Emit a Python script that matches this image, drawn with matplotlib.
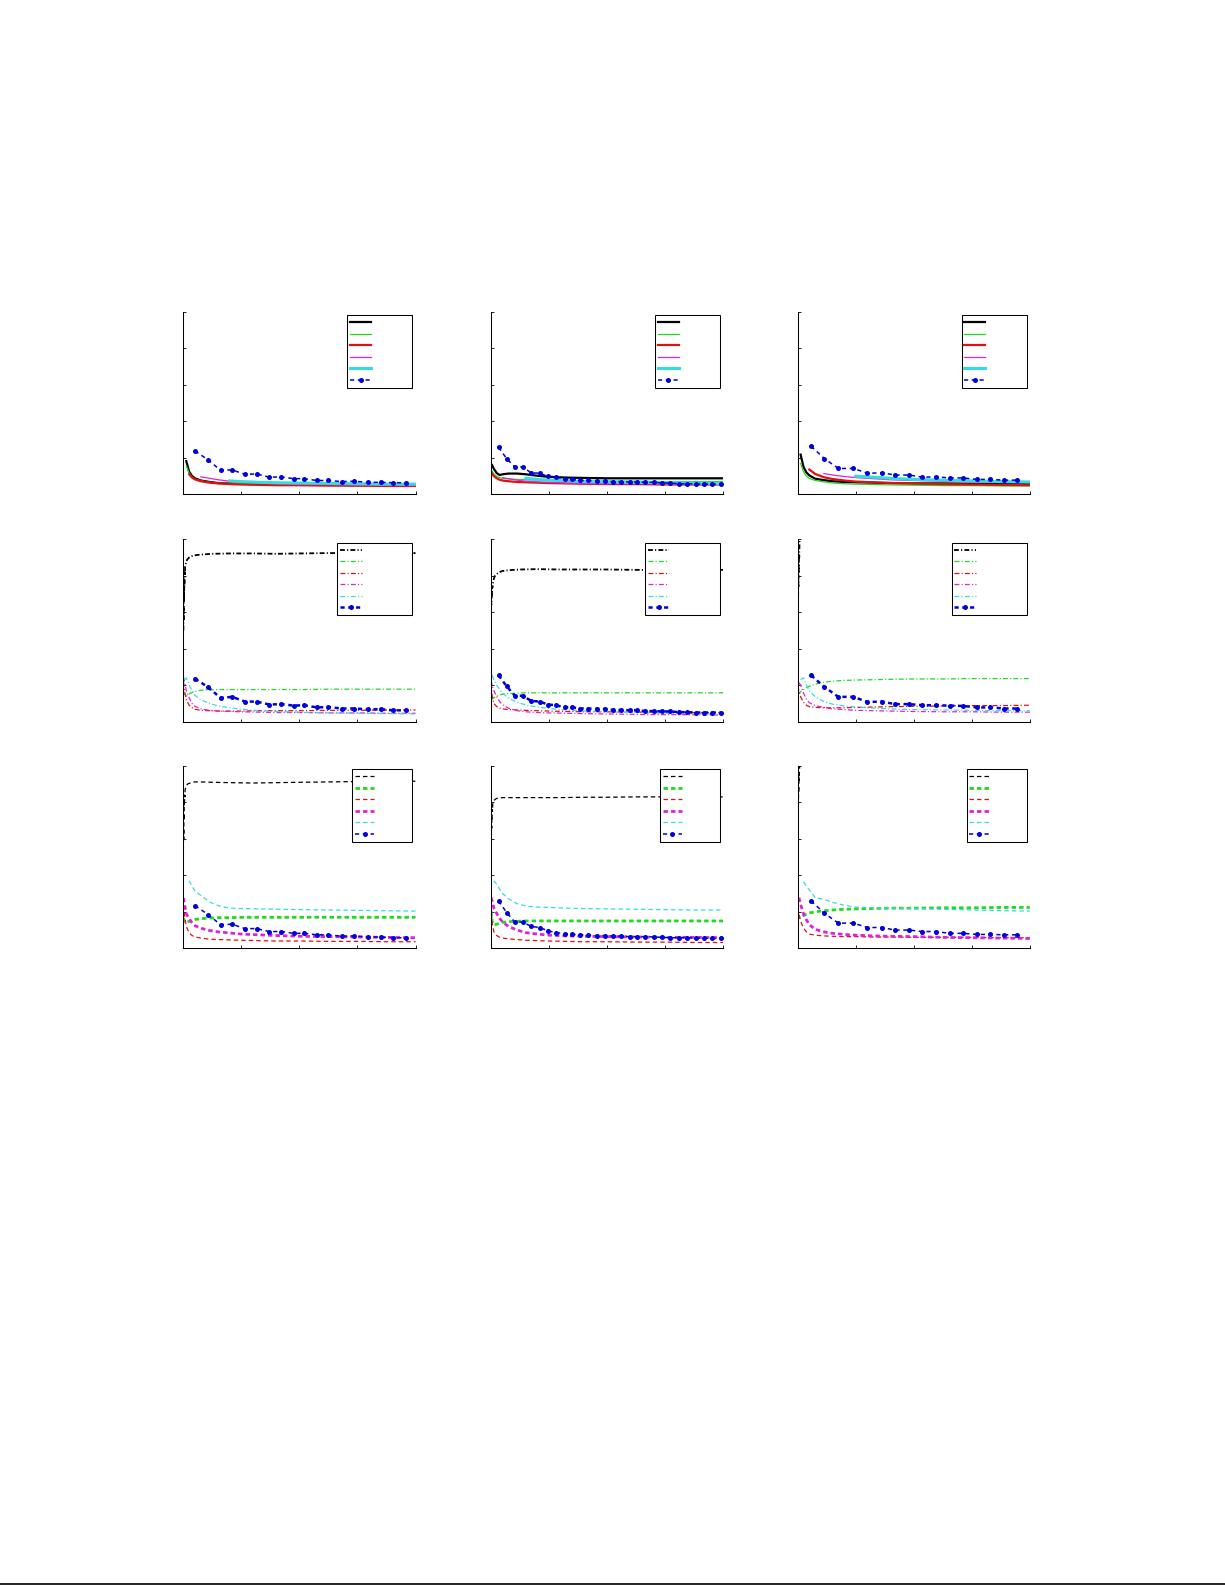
import matplotlib
matplotlib.use("Agg")
import matplotlib.pyplot as plt
from matplotlib.lines import Line2D

nan = float("nan")

# sample points of the smooth curves (all panels)
t = [0.0, 0.02, 0.05, 0.1, 0.15, 0.2, 0.3, 0.45, 0.6, 0.8, 1.0, 1.3, 1.6, 2.0, 2.5, 3.0, 3.5, 4.0]
# finer sampling for the black curve of rows 2 and 3 (fast noisy rise)
t_black = [0.0, 0.003, 0.006, 0.009, 0.012, 0.015, 0.018, 0.022, 0.026, 0.03, 0.04, 0.05, 0.07,
           0.1, 0.15, 0.2, 0.3, 0.5, 0.8, 1.2, 1.6, 2.0, 2.5, 3.0, 3.5, 4.0]
# x of the blue marked curve, one list per column
bx1 = [0.2, 0.43, 0.64, 0.84, 1.06, 1.26, 1.48, 1.69, 1.9, 2.08, 2.3, 2.5, 2.73, 2.94, 3.18, 3.4, 3.61, 3.83]
bx2 = [0.13, 0.27, 0.41, 0.55, 0.69, 0.84, 0.98, 1.12, 1.27, 1.4, 1.54, 1.68, 1.83, 1.96, 2.1, 2.24,
       2.39, 2.52, 2.66, 2.81, 2.95, 3.09, 3.24, 3.38, 3.53, 3.67, 3.81, 3.96]
bx3 = [0.23, 0.46, 0.7, 0.96, 1.2, 1.45, 1.68, 1.92, 2.15, 2.38, 2.62, 2.85, 3.09, 3.32, 3.55, 3.78]

# ---- row 1 (solid lines) ----
r1c1_black = [nan, nan, 0.91, 0.62, 0.5, 0.44, 0.38, 0.34, 0.31, 0.3, 0.29, 0.28, 0.27, 0.26, 0.26, 0.25, 0.25, 0.25]
r1c1_green = [nan, nan, 0.78, 0.58, 0.47, 0.42, 0.37, 0.33, 0.31, 0.3, 0.29, 0.28, 0.27, 0.27, 0.26, 0.26, 0.25, 0.25]
r1c1_red = [nan, nan, nan, 0.55, 0.46, 0.41, 0.36, 0.32, 0.3, 0.28, 0.27, 0.26, 0.25, 0.25, 0.24, 0.24, 0.23, 0.23]
r1c1_magenta = [nan, nan, nan, nan, nan, nan, 0.48, 0.44, 0.4, 0.36, 0.33, 0.31, 0.29, 0.28, 0.27, 0.26, 0.25, 0.24]
r1c1_cyan = [nan, nan, nan, nan, nan, nan, nan, nan, nan, 0.37, 0.35, 0.33, 0.32, 0.31, 0.3, 0.29, 0.28, 0.28]
r1c1_blue = [1.19, 0.94, 0.66, 0.67, 0.55, 0.56, 0.47, 0.48, 0.43, 0.43, 0.38, 0.38, 0.35, 0.36, 0.33, 0.33, 0.32, 0.32]

r1c2_black = [nan, 0.8, 0.7, 0.58, 0.53, 0.55, 0.57, 0.57, 0.55, 0.51, 0.48, 0.46, 0.45, 0.44, 0.44, 0.44, 0.44, 0.44]
r1c2_green = [nan, 0.64, 0.56, 0.49, 0.46, 0.44, 0.42, 0.41, 0.4, 0.39, 0.38, 0.37, 0.37, 0.36, 0.36, 0.35, 0.35, 0.35]
r1c2_red = [nan, 0.57, 0.5, 0.44, 0.4, 0.38, 0.36, 0.34, 0.33, 0.32, 0.31, 0.3, 0.29, 0.28, 0.28, 0.27, 0.27, 0.27]
r1c2_magenta = [nan, nan, nan, nan, nan, 0.46, 0.43, 0.39, 0.36, 0.34, 0.33, 0.31, 0.3, 0.29, 0.29, 0.28, 0.28, 0.28]
r1c2_cyan = [nan, nan, nan, nan, nan, nan, nan, nan, 0.44, 0.41, 0.39, 0.37, 0.35, 0.34, 0.33, 0.32, 0.31, 0.3]
r1c2_blue = [1.29, 0.98, 0.75, 0.75, 0.59, 0.58, 0.49, 0.48, 0.41, 0.41, 0.38, 0.38, 0.36, 0.36, 0.35, 0.35,
             0.34, 0.34, 0.33, 0.33, 0.31, 0.31, 0.29, 0.29, 0.29, 0.28, 0.28, 0.28]

r1c3_black = [nan, nan, 1.09, 0.75, 0.6, 0.52, 0.43, 0.39, 0.36, 0.34, 0.33, 0.32, 0.31, 0.3, 0.3, 0.29, 0.29, 0.29]
r1c3_green = [nan, nan, 0.85, 0.62, 0.5, 0.44, 0.38, 0.34, 0.31, 0.29, 0.28, 0.27, 0.26, 0.25, 0.24, 0.24, 0.23, 0.23]
r1c3_red = [nan, nan, nan, nan, nan, 0.68, 0.56, 0.47, 0.42, 0.38, 0.35, 0.33, 0.31, 0.3, 0.28, 0.27, 0.26, 0.25]
r1c3_magenta = [nan, nan, nan, nan, nan, nan, nan, 0.57, 0.53, 0.49, 0.46, 0.43, 0.4, 0.38, 0.36, 0.34, 0.33, 0.32]
r1c3_cyan = [nan, nan, nan, nan, nan, nan, nan, nan, nan, nan, 0.5, 0.47, 0.44, 0.41, 0.39, 0.37, 0.35, 0.34]
r1c3_blue = [1.32, 0.98, 0.71, 0.71, 0.58, 0.59, 0.53, 0.53, 0.47, 0.48, 0.45, 0.45, 0.41, 0.41, 0.39, 0.39]

# ---- row 2 (dash-dot lines) ----
r2c1_black = [2.5, 3.1, 2.8, 3.6, 3.3, 3.9, 3.7, 4.1, 4.0, 4.25, 4.3, 4.4, 4.45, 4.5, 4.54, 4.56, 4.58, 4.6,
              4.61, 4.61, 4.6, 4.61, 4.62, 4.62, 4.62, 4.62]
r2c1_green = [0.86, 0.72, 0.7, 0.76, 0.8, 0.83, 0.86, 0.87, 0.88, 0.88, 0.88, 0.88, 0.88, 0.88, 0.89, 0.89, 0.89, 0.89]
r2c1_red = [1.09, 0.85, 0.6, 0.45, 0.38, 0.34, 0.31, 0.3, 0.29, 0.29, 0.29, 0.3, 0.3, 0.3, 0.31, 0.31, 0.32, 0.32]
r2c1_magenta = [1.23, 1.1, 0.85, 0.65, 0.5, 0.42, 0.35, 0.31, 0.29, 0.28, 0.27, 0.26, 0.25, 0.25, 0.24, 0.24, 0.23, 0.23]
r2c1_cyan = [nan, 1.15, 1.2, 1.0, 0.85, 0.72, 0.6, 0.5, 0.43, 0.38, 0.34, 0.3, 0.28, 0.26, 0.24, 0.23, 0.22, 0.21]
r2c1_blue = [1.18, 0.94, 0.65, 0.68, 0.55, 0.55, 0.47, 0.48, 0.44, 0.45, 0.39, 0.4, 0.36, 0.36, 0.34, 0.34, 0.31, 0.31]

r2c2_black = [3.0, 3.3, 3.2, 3.5, 3.4, 3.6, 3.55, 3.7, 3.68, 3.75, 3.85, 3.92, 4.0, 4.05, 4.1, 4.13, 4.15, 4.17,
              4.18, 4.17, 4.17, 4.17, 4.16, 4.16, 4.16, 4.16]
r2c2_green = [0.6, 0.62, 0.66, 0.7, 0.73, 0.75, 0.77, 0.78, 0.79, 0.79, 0.79, 0.79, 0.79, 0.79, 0.79, 0.79, 0.79, 0.79]
r2c2_red = [1.05, 0.7, 0.5, 0.41, 0.37, 0.35, 0.33, 0.32, 0.31, 0.3, 0.29, 0.28, 0.27, 0.27, 0.26, 0.26, 0.25, 0.25]
r2c2_magenta = [1.14, 1.0, 0.85, 0.68, 0.55, 0.46, 0.37, 0.3, 0.27, 0.25, 0.24, 0.23, 0.22, 0.21, 0.2, 0.19, 0.19, 0.18]
r2c2_cyan = [nan, 1.27, 1.15, 1.0, 0.88, 0.78, 0.65, 0.53, 0.46, 0.4, 0.36, 0.32, 0.29, 0.27, 0.25, 0.23, 0.22, 0.21]
r2c2_blue = [1.27, 0.97, 0.71, 0.71, 0.57, 0.55, 0.47, 0.45, 0.39, 0.39, 0.36, 0.36, 0.35, 0.35, 0.32, 0.32,
             0.31, 0.31, 0.29, 0.29, 0.28, 0.28, 0.26, 0.26, 0.25, 0.25, 0.25, 0.25]

r2c3_black = [2.9, 3.5, 3.2, 3.9, 3.7, 4.3, 4.1, 4.6, 4.5, 4.9, 5.1, 5.3, 5.5, 5.7, 5.9, 6.0, 6.1, 6.2,
              6.2, 6.2, 6.2, 6.2, 6.2, 6.2, 6.2, 6.2]
r2c3_green = [0.8, 0.78, 0.82, 0.88, 0.93, 0.97, 1.03, 1.08, 1.11, 1.13, 1.14, 1.15, 1.16, 1.17, 1.17, 1.18, 1.18, 1.18]
r2c3_red = [0.98, 0.85, 0.68, 0.53, 0.45, 0.41, 0.39, 0.38, 0.38, 0.38, 0.39, 0.4, 0.41, 0.42, 0.43, 0.44, 0.44, 0.45]
r2c3_magenta = [nan, 1.07, 1.0, 0.78, 0.62, 0.52, 0.44, 0.39, 0.35, 0.33, 0.31, 0.3, 0.29, 0.28, 0.27, 0.27, 0.26, 0.26]
r2c3_cyan = [nan, nan, 1.15, 1.2, 1.0, 0.85, 0.68, 0.55, 0.48, 0.43, 0.4, 0.37, 0.35, 0.33, 0.32, 0.31, 0.3, 0.3]
r2c3_blue = [1.27, 0.95, 0.68, 0.68, 0.54, 0.55, 0.48, 0.48, 0.45, 0.45, 0.44, 0.43, 0.39, 0.39, 0.36, 0.36]

# ---- row 3 (dashed lines) ----
r3c1_black = [2.7, 3.3, 3.0, 3.7, 3.5, 4.0, 3.9, 4.2, 4.15, 4.35, 4.4, 4.45, 4.5, 4.52, 4.55, 4.56, 4.56, 4.55,
              4.54, 4.53, 4.54, 4.55, 4.56, 4.57, 4.58, 4.58]
r3c1_green = [0.83, 0.72, 0.7, 0.74, 0.77, 0.79, 0.81, 0.83, 0.84, 0.84, 0.85, 0.85, 0.85, 0.85, 0.85, 0.85, 0.85, 0.85]
r3c1_red = [1.19, 0.9, 0.6, 0.42, 0.35, 0.31, 0.28, 0.25, 0.24, 0.23, 0.22, 0.21, 0.2, 0.2, 0.19, 0.19, 0.18, 0.18]
r3c1_magenta = [1.38, 1.2, 0.95, 0.8, 0.7, 0.62, 0.55, 0.49, 0.45, 0.42, 0.39, 0.37, 0.35, 0.33, 0.32, 0.31, 0.3, 0.29]
r3c1_cyan = [nan, nan, nan, 1.85, 1.7, 1.57, 1.45, 1.27, 1.17, 1.1, 1.09, 1.08, 1.07, 1.06, 1.05, 1.04, 1.03, 1.02]
r3c1_blue = [1.17, 0.92, 0.65, 0.66, 0.54, 0.54, 0.46, 0.46, 0.41, 0.41, 0.37, 0.37, 0.33, 0.34, 0.31, 0.31, 0.29, 0.29]

r3c2_black = [2.6, 3.1, 2.9, 3.4, 3.3, 3.6, 3.55, 3.8, 3.75, 3.95, 4.0, 4.05, 4.08, 4.11, 4.12, 4.13, 4.13, 4.13,
              4.13, 4.13, 4.14, 4.14, 4.15, 4.15, 4.15, 4.15]
r3c2_green = [1.02, 0.75, 0.64, 0.66, 0.69, 0.71, 0.73, 0.74, 0.75, 0.75, 0.75, 0.75, 0.75, 0.75, 0.75, 0.75, 0.75, 0.75]
r3c2_red = [1.16, 0.7, 0.45, 0.35, 0.3, 0.28, 0.26, 0.24, 0.22, 0.21, 0.2, 0.19, 0.18, 0.18, 0.17, 0.17, 0.16, 0.16]
r3c2_magenta = [1.39, 1.3, 1.1, 0.95, 0.82, 0.72, 0.6, 0.5, 0.43, 0.39, 0.36, 0.34, 0.33, 0.32, 0.31, 0.3, 0.3, 0.29]
r3c2_cyan = [nan, nan, 1.85, 1.75, 1.62, 1.5, 1.36, 1.22, 1.16, 1.13, 1.12, 1.1, 1.09, 1.08, 1.07, 1.06, 1.05, 1.05]
r3c2_blue = [1.3, 0.98, 0.72, 0.72, 0.6, 0.57, 0.48, 0.43, 0.4, 0.38, 0.37, 0.36, 0.35, 0.35, 0.34, 0.33,
             0.32, 0.32, 0.32, 0.31, 0.3, 0.29, 0.29, 0.29, 0.28, 0.28, 0.27, 0.27]

r3c3_black = [3.35, 3.8, 3.6, 4.1, 3.95, 4.4, 4.3, 4.7, 4.6, 4.9, 5.1, 5.2, 5.4, 5.6, 5.8, 5.9, 6.0, 6.1,
              6.1, 6.1, 6.1, 6.1, 6.1, 6.1, 6.1, 6.1]
r3c3_green = [0.93, 0.84, 0.86, 0.9, 0.94, 0.97, 1.0, 1.03, 1.05, 1.07, 1.08, 1.09, 1.1, 1.1, 1.11, 1.11, 1.12, 1.12]
r3c3_red = [1.12, 0.95, 0.75, 0.55, 0.45, 0.39, 0.36, 0.34, 0.33, 0.32, 0.32, 0.31, 0.31, 0.3, 0.3, 0.3, 0.29, 0.29]
r3c3_magenta = [nan, 1.39, 1.2, 0.95, 0.78, 0.65, 0.52, 0.45, 0.41, 0.38, 0.36, 0.34, 0.33, 0.32, 0.3, 0.29, 0.28, 0.27]
r3c3_cyan = [nan, nan, nan, 1.82, 1.7, 1.6, 1.39, 1.34, 1.26, 1.18, 1.13, 1.11, 1.1, 1.09, 1.07, 1.05, 1.03, 1.02]
r3c3_blue = [1.3, 0.96, 0.69, 0.69, 0.57, 0.57, 0.5, 0.5, 0.46, 0.46, 0.41, 0.41, 0.38, 0.38, 0.37, 0.37]

BLACK = "#000000"
GREEN = "#22d822"
RED = "#dd1111"
MAGENTA = "#dd22dd"
CYAN = "#33dddd"
BLUE = "#0000dd"

DASHDOT = (0, (3.5, 1.6, 0.8, 1.6))
DASHED = (0, (3.2, 2.2))
BLUE_DASH = (0, (3.0, 2.6))

# line style and widths (black, green, red, magenta, cyan, blue) per row
row_style = {
    0: ("-", [1.6, 0.9, 1.6, 0.9, 2.2, 1.1]),
    1: (DASHDOT, [1.3, 0.9, 0.9, 0.9, 0.9, 1.8]),
    2: (DASHED, [0.9, 2.0, 0.9, 2.0, 0.9, 1.1]),
}
# legend box width per row (handle length, pad after handle)
row_legend = {0: (2.5, 4.6), 1: (2.6, 5.7), 2: (2.3, 4.2)}

panels = [
    [(t, r1c1_black, r1c1_green, r1c1_red, r1c1_magenta, r1c1_cyan, bx1, r1c1_blue),
     (t, r1c2_black, r1c2_green, r1c2_red, r1c2_magenta, r1c2_cyan, bx2, r1c2_blue),
     (t, r1c3_black, r1c3_green, r1c3_red, r1c3_magenta, r1c3_cyan, bx3, r1c3_blue)],
    [(t_black, r2c1_black, r2c1_green, r2c1_red, r2c1_magenta, r2c1_cyan, bx1, r2c1_blue),
     (t_black, r2c2_black, r2c2_green, r2c2_red, r2c2_magenta, r2c2_cyan, bx2, r2c2_blue),
     (t_black, r2c3_black, r2c3_green, r2c3_red, r2c3_magenta, r2c3_cyan, bx3, r2c3_blue)],
    [(t_black, r3c1_black, r3c1_green, r3c1_red, r3c1_magenta, r3c1_cyan, bx1, r3c1_blue),
     (t_black, r3c2_black, r3c2_green, r3c2_red, r3c2_magenta, r3c2_cyan, bx2, r3c2_blue),
     (t_black, r3c3_black, r3c3_green, r3c3_red, r3c3_magenta, r3c3_cyan, bx3, r3c3_blue)],
]

col_left = [0.1497, 0.4008, 0.6512]
row_bottom = [0.6881, 0.5447, 0.4017]
ax_w = 0.1895
ax_h = 0.1151


def draw_panel(ax, row, data):
    tb, black, green, red, magenta, cyan, bx, blue = data
    ls, lw = row_style[row]
    handles = []
    handles += ax.plot(tb, black, color=BLACK, ls=ls, lw=lw[0])
    handles += ax.plot(t, green, color=GREEN, ls=ls, lw=lw[1])
    handles += ax.plot(t, red, color=RED, ls=ls, lw=lw[2])
    handles += ax.plot(t, magenta, color=MAGENTA, ls=ls, lw=lw[3])
    handles += ax.plot(t, cyan, color=CYAN, ls=ls, lw=lw[4])
    handles += ax.plot(bx, blue, color=BLUE, ls=BLUE_DASH, lw=lw[5],
                       marker="o", markersize=3.6, markeredgewidth=0)

    ax.set_xlim(0, 4)
    ax.set_ylim(0, 5)
    ax.set_xticks([0, 1, 2, 3, 4])
    ax.set_yticks([0, 1, 2, 3, 4, 5])
    ax.set_xticklabels([])
    ax.set_yticklabels([])
    ax.tick_params(direction="in", length=2.5, width=0.6)
    ax.spines["top"].set_visible(False)
    ax.spines["right"].set_visible(False)
    for s in ("left", "bottom"):
        ax.spines[s].set_linewidth(0.75)

    hl, pad = row_legend[row]
    leg = ax.legend(handles, [""] * 6, loc="upper right", fontsize=6,
                    handlelength=hl, handletextpad=pad, borderpad=0.35,
                    labelspacing=0.3, borderaxespad=0.4, fancybox=False,
                    framealpha=1, edgecolor="black")
    leg.get_frame().set_linewidth(0.75)


def main():
    plt.rcParams["lines.scale_dashes"] = False
    fig = plt.figure(figsize=(12.25, 15.85), dpi=100)
    for r in range(3):
        for c in range(3):
            ax = fig.add_axes([col_left[c], row_bottom[r], ax_w, ax_h])
            draw_panel(ax, r, panels[r][c])
    # page rule at the very bottom
    fig.add_artist(Line2D([0, 1], [0.0008, 0.0008], transform=fig.transFigure,
                          color="black", lw=1.2))
    fig.savefig("out.png", dpi=100)


main()
